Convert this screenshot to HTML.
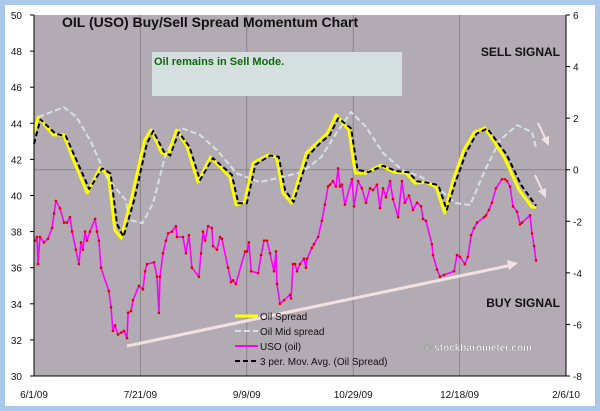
<!DOCTYPE html>
<html><head><meta charset="utf-8"><style>
html,body{margin:0;padding:0;background:#a9c8ea;}
svg{display:block;font-family:"Liberation Sans",Arial,sans-serif;}
</style></head><body>
<svg id="chart" width="600" height="411" viewBox="0 0 600 411">
<rect x="0" y="0" width="600" height="411" fill="#a9c8ea"/>
<rect x="5" y="5" width="590" height="401" fill="#ffffff"/>
<rect x="34" y="15" width="532" height="361" fill="#b3abb3"/>
<g id="grid"></g>
<rect x="152" y="52" width="250" height="44" fill="#d6dfdf"/>
<text x="154" y="65" font-size="11" font-weight="bold" fill="#0a6a0a">Oil remains in Sell Mode.</text>
<text x="62" y="27" font-size="14" font-weight="bold" fill="#111">OIL (USO) Buy/Sell Spread Momentum Chart</text>
<text x="560" y="56" font-size="12" font-weight="bold" fill="#111" text-anchor="end">SELL SIGNAL</text>
<text x="560" y="307" font-size="12" font-weight="bold" fill="#111" text-anchor="end">BUY SIGNAL</text>
<g id="series"></g>
<line x1="127" y1="346" x2="512" y2="265" stroke="#f3e0e0" stroke-width="3"/>
<polygon points="518,263 507,260 509,270" fill="#f3e0e0"/>
<line x1="538" y1="123" x2="546" y2="140" stroke="#f3e0e0" stroke-width="2"/>
<polygon points="549,146 541,139 549,136" fill="#f3e0e0"/>
<line x1="535" y1="175" x2="543" y2="192" stroke="#f3e0e0" stroke-width="2"/>
<polygon points="546,198 538,191 546,188" fill="#f3e0e0"/>
<text x="424" y="351" font-size="10" font-weight="bold" fill="#ffffff" stroke="#777" stroke-width="0.3">© stockbarometer.com</text>
<g>
<line x1="235" y1="316" x2="258" y2="316" stroke="#ffff00" stroke-width="3"/>
<text x="260" y="320" font-size="10" fill="#111">Oil Spread</text>
<line x1="235" y1="331" x2="258" y2="331" stroke="#d8e4e4" stroke-width="2" stroke-dasharray="6,3"/>
<text x="260" y="335" font-size="10" fill="#111">Oil Mid spread</text>
<line x1="235" y1="346" x2="258" y2="346" stroke="#ff00ff" stroke-width="2"/>
<text x="260" y="350" font-size="10" fill="#111">USO (oil)</text>
<line x1="235" y1="361" x2="258" y2="361" stroke="#000" stroke-width="2" stroke-dasharray="5,3"/>
<text x="260" y="365" font-size="10" fill="#111">3 per. Mov. Avg. (Oil Spread)</text>
</g>
<g id="axes"></g>
</svg>
<script>
const xTickLabels=["6/1/09","7/21/09","9/9/09","10/29/09","12/18/09","2/6/10"];
const xTickDays=[0,50,100,150,200,250];
const leftTicks=[30,32,34,36,38,40,42,44,46,48,50];
const rightTicks=[-8,-6,-4,-2,0,2,4,6];
const usoDays=[0.5,1.4,1.9,2.8,4.7,6.6,8.5,9.4,10.3,12.2,14.1,15.5,16.9,17.9,19.7,21.1,22.1,23,24,24.9,26.3,28.7,29.6,30.5,31.5,35.2,36.2,37.1,38.1,39.5,40.9,42.3,43.7,44.2,45.6,46.5,49.3,51.2,52.2,53.1,56.4,57.8,58.7,59.2,60.6,62,63,64.8,66.7,67.2,70,71.4,72.8,74.2,77.5,78.5,79.4,80.4,81.8,83.6,84.1,86,87.4,88.3,91.2,92.6,93.5,94.9,99.2,100.1,101,102,105.3,106.7,108.1,109.5,110.9,112.8,113.7,114.2,115.6,117.5,120.3,120.8,121.7,122.7,123.6,125,126.9,127.8,128.3,130.6,131.6,133.5,135.3,136.7,138.2,139.1,140.5,141.9,142.9,143.8,144.7,146.1,149.4,150.4,152.3,154.1,156,157.9,159.3,161.2,162.6,164,165.4,167.3,168.7,171.1,172.9,174.3,176.2,178.1,180,181.9,182.8,184.2,187,187.5,189.4,190.8,192.7,197.4,198.8,200.2,202.5,203.9,205.4,206.8,208.2,211.5,212.4,213.8,215.2,217.1,219.9,221.3,222.3,223.7,225.1,227,228.4,229.3,233.1,234,235,235.9];
const usoPrice=[37.5,37.7,36.2,37.7,37.4,37.6,38.2,39,39.7,39.3,38.5,38.5,38.8,38,37,36.2,37.4,37,38,37.5,38,38.7,38,37.5,36,34.7,33.8,32.5,32.8,32.3,32.4,32.5,32.1,33.5,33.6,34.2,35,34.8,35.8,36.2,36.3,35.5,33.5,35.5,36.8,37.5,37.9,38,38.3,37.7,37.7,36.8,37.8,36,35.5,36.8,38,37.5,38.3,38.2,37.2,37,37.7,37.6,36,35.2,35.3,35.1,36.9,36.9,37.4,35.8,35.7,36.7,37.5,37.5,36.8,35.8,36.9,35.1,34,34.2,34.5,34.3,36.2,36.2,35.8,36.2,36.5,36,36.5,37.1,37.3,37.7,38.6,39.5,40.5,40.6,40.8,40.5,41.5,40.5,40.6,39.5,40.9,39.4,40.8,40.4,39.6,40.4,40.3,40.6,39.3,40.4,39.9,40.8,39.8,38.8,40.8,39.6,40,39.2,39.6,39.4,38.7,38.6,37.3,36.7,35.9,35.5,35.6,35.8,36.7,36.6,36.2,36.6,37.8,38.2,38.5,38.8,38.9,39.2,39.6,40.4,40.9,40.9,40.8,40.5,39.4,39.1,38.4,38.5,38.9,37.9,37.2,36.4];
const spreadDays=[0,2,9,14,18,25,31,35,38,41,46,52,55,60,63,67,72,77,83,92,95,99,103,110,114,117,121,128,133,138,142,148,151,156,163,169,175,179,184,189,193,197,202,207,212,221,228,234,236];
const spreadVals=[1.46,2.04,1.35,1.35,0.49,-0.9,0.07,-0.21,-2.34,-2.65,-1.06,1.15,1.54,0.65,0.57,1.54,0.88,-0.48,0.49,-0.28,-1.37,-1.25,0.26,0.57,0.49,-0.9,-1.29,0.65,1.04,1.42,2.12,1.54,-0.13,-0.13,0.18,-0.09,-0.13,-0.52,-0.48,-0.67,-1.68,-0.4,0.76,1.46,1.62,0.49,-0.79,-1.45,-1.45];
const maDays=[0,3,10,15,19,26,32,36,39,42,47,53,56,61,64,68,73,78,84,93,96,100,104,111,115,118,122,129,134,139,143,149,152,157,164,170,176,180,185,190,194,198,203,208,213,222,229,235,236];
const maVals=[1.0,1.95,1.4,1.3,0.55,-0.75,0.05,-0.15,-2.1,-2.6,-1.2,1.0,1.5,0.7,0.55,1.45,0.9,-0.4,0.45,-0.2,-1.3,-1.3,0.2,0.55,0.5,-0.8,-1.25,0.55,1.0,1.35,2.0,1.6,0.0,-0.1,0.15,-0.05,-0.1,-0.45,-0.5,-0.6,-1.55,-0.5,0.65,1.4,1.6,0.6,-0.6,-1.3,-1.4];
const midDays=[2,14,20,27,34,43,45,51,56,62,69,78,86,95,106,117,126,135,142,149,156,164,173,182,191,198,205,212,219,227,234,236];
const midVals=[2.04,2.43,2.04,1.04,-0.28,-1.17,-1.95,-2.07,-1.29,0.65,1.62,1.35,0.76,-0.13,-0.48,-0.28,-0.09,0.49,1.42,2.24,1.66,0.65,-0.01,-0.28,-0.79,-1.29,-1.37,-0.01,1.15,1.73,1.46,0.84];

const L=34,R=566,T=15,B=376;
const xs=d=>L+(d/250)*(R-L);
const yl=v=>B-(v-30)/20*(B-T);
const yr=v=>B-(v+8)/14*(B-T);
const NS="http://www.w3.org/2000/svg";
function mk(tag,attrs,parent){const e=document.createElementNS(NS,tag);for(const k in attrs)e.setAttribute(k,attrs[k]);parent.appendChild(e);return e;}
const grid=document.getElementById('grid'),axes=document.getElementById('axes'),series=document.getElementById('series');
for(let i=1;i<xTickDays.length-1;i++){
  const g=mk('line',{x1:xs(xTickDays[i]),x2:xs(xTickDays[i]),y1:T,y2:B,stroke:'#8a858a','stroke-width':1},grid);
  
  
}
const z=mk('line',{x1:L,x2:R,y1:yr(0),y2:yr(0),stroke:'#8a858a','stroke-width':1},grid);


function path(d,v,yf,attrs,name){
  const p=mk('path',Object.assign({d:d.map((x,i)=>(i?'L':'M')+xs(x).toFixed(1)+','+yf(v[i]).toFixed(1)).join(''),fill:'none','stroke-linejoin':'round'},attrs),series);
  
  
}
path(midDays,midVals,yr,{stroke:'#d5e2e2','stroke-width':2,'stroke-dasharray':'6,3'},'mid-spread-line');
path(spreadDays,spreadVals,yr,{stroke:'#ffff00','stroke-width':3},'oil-spread-line');
path(maDays,maVals,yr,{stroke:'#000','stroke-width':2,'stroke-dasharray':'5,3'},'moving-average-line');
path(usoDays,usoPrice,yl,{stroke:'#ff00ff','stroke-width':1.6},'uso-line');
usoDays.forEach((d,i)=>{
  const c=mk('circle',{cx:xs(d),cy:yl(usoPrice[i]),r:1.3,fill:'#e00000'},series);
  
  
});
mk('line',{x1:L,x2:L,y1:T,y2:B,stroke:'#000'},axes);
mk('line',{x1:R,x2:R,y1:T,y2:B,stroke:'#000'},axes);
mk('line',{x1:L,x2:R,y1:B,y2:B,stroke:'#000'},axes);
leftTicks.forEach(v=>{
  mk('line',{x1:L-4,x2:L,y1:yl(v),y2:yl(v),stroke:'#000'},axes);
  const t=mk('text',{x:22,y:yl(v)+4,'font-size':10,'text-anchor':'end',fill:'#111'},axes);
  t.textContent=v;
  
  
});
rightTicks.forEach(v=>{
  mk('line',{x1:R,x2:R+4,y1:yr(v),y2:yr(v),stroke:'#000'},axes);
  const t=mk('text',{x:R+7,y:yr(v)+4,'font-size':10,fill:'#111'},axes);
  t.textContent=v;
  
  
});
xTickDays.forEach((d,i)=>{
  const t=mk('text',{x:xs(d),y:398,'font-size':10,'text-anchor':'middle',fill:'#111'},axes);
  t.textContent=xTickLabels[i];
  
  
});
</script>
</body></html>
